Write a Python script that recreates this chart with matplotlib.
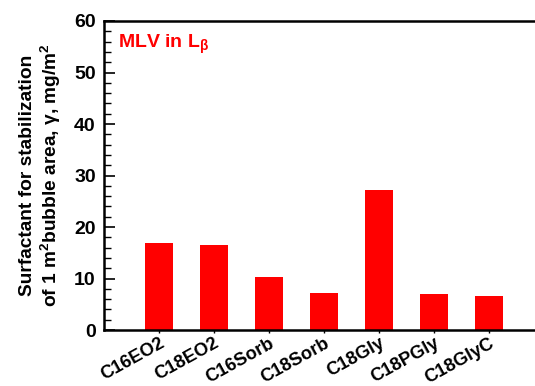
import numpy as np
import matplotlib.pyplot as plt
from matplotlib.ticker import MultipleLocator

plt.rcParams['font.family'] = ['Liberation Sans', 'DejaVu Sans']
plt.rcParams['mathtext.fontset'] = 'custom'
plt.rcParams['mathtext.rm'] = 'Liberation Sans:bold'
plt.rcParams['mathtext.it'] = 'Liberation Sans:bold'
plt.rcParams['mathtext.bf'] = 'Liberation Sans:bold'

surfactants = ['C16EO2', 'C18EO2', 'C16Sorb', 'C18Sorb', 'C18Gly', 'C18PGly', 'C18GlyC']
gamma = [16.9, 16.5, 10.3, 7.2, 27.2, 7.0, 6.6]  # mg/m2

fig = plt.figure(figsize=(5.35, 3.86), dpi=100)
ax = fig.add_axes([0.1944, 0.145, 0.8056, 0.8006])

x = np.arange(len(surfactants))
ax.bar(x, gamma, width=0.51, color='#ff0000')

ax.set_xlim(-1, 6.84)
ax.set_ylim(0, 60)
ax.yaxis.set_major_locator(MultipleLocator(10))
ax.yaxis.set_minor_locator(MultipleLocator(2))
ax.tick_params(axis='y', which='major', direction='in', length=8, width=1.2,
               labelsize=14, pad=6)
ax.tick_params(axis='y', which='minor', direction='in', length=5, width=1.0)
ax.tick_params(axis='x', direction='out', length=2, width=1.0, labelsize=13.2, pad=1.5)
for lbl in ax.get_yticklabels():
    lbl.set_fontweight('bold')

ax.set_xticks(x)
ax.set_xticklabels(surfactants, rotation=29, ha='right', rotation_mode='anchor',
                   fontweight='bold')

for side in ['left', 'bottom', 'top']:
    ax.spines[side].set_linewidth(1.8)
ax.spines['right'].set_visible(False)

ax.set_ylabel('Surfactant for stabilization\nof 1 m$^2$bubble area, $\\gamma$, mg/m$^2$',
              fontsize=13.8, fontweight='bold', labelpad=8, linespacing=1.15)

ax.text(0.033, 0.925, 'MLV in L$_\\beta$', transform=ax.transAxes, color='#ff0000',
        fontsize=14, fontweight='bold', va='center', ha='left')

fig.savefig('out.png', dpi=100)
